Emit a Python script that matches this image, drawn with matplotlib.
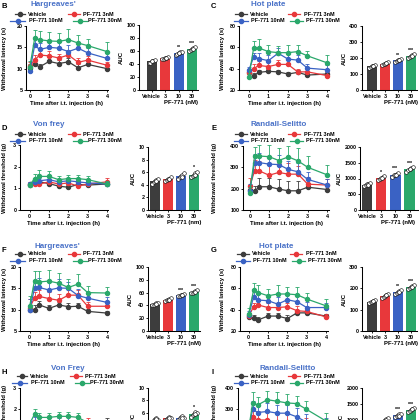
import matplotlib
matplotlib.use('Agg')
import matplotlib.pyplot as plt
from matplotlib.lines import Line2D
import numpy as np

plt.rcParams['font.family'] = ['Liberation Sans', 'DejaVu Sans']
plt.rcParams['font.weight'] = 'bold'
plt.rcParams['axes.labelweight'] = 'bold'

# ---------------- data ----------------
times = [0, 0.25, 0.5, 1, 1.5, 2, 2.5, 3, 4]
groups = ['Vehicle', 'PF-771 3nM', 'PF-771 10nM', 'PF-771 30nM']
bar_labels = ['Vehicle', '3', '10', '30']
colors = ['#3d3d3d', '#e8383b', '#3a62c4', '#2aa86b']
title_color = '#4a72c8'

# B  Hargreaves'
B_means = [[10.2, 11.1, 10.4, 11.7, 11.2, 11.6, 10.2, 11.0, 10.0],
           [10.6, 12.0, 13.2, 13.0, 12.5, 13.2, 11.5, 12.0, 10.8],
           [9.5, 15.5, 14.5, 15.0, 14.8, 14.0, 14.8, 13.7, 12.4],
           [10.5, 17.1, 16.8, 16.5, 16.4, 16.8, 16.0, 15.4, 14.0]]
B_errs = [[0.8, 1.0, 0.8, 1.0, 0.8, 0.8, 0.8, 0.7, 0.6],
          [1.0, 1.2, 1.2, 1.2, 1.0, 1.2, 1.0, 1.0, 0.8],
          [0.8, 1.5, 1.5, 1.5, 1.5, 1.5, 1.5, 1.2, 1.5],
          [1.2, 2.0, 2.0, 2.2, 2.0, 2.4, 2.0, 1.5, 2.2]]
B_auc = [44, 49, 57, 63]
B_pts = [[41, 42, 44, 45, 46, 44], [47, 48, 49, 50, 51, 49],
         [54, 56, 57, 58, 59, 57], [60, 62, 63, 64, 66, 63]]
B_stars = ['', '', '**', '***']

# C  Hot plate
C_means = [[36.5, 33.0, 36.5, 37.5, 37.0, 35.0, 36.5, 34.0, 35.0],
           [36.0, 40.0, 43.0, 42.0, 44.0, 44.0, 37.0, 37.0, 33.5],
           [38.5, 51.0, 49.5, 47.5, 54.5, 49.0, 48.0, 40.5, 39.0],
           [32.0, 59.5, 59.5, 56.0, 55.0, 55.0, 56.0, 52.0, 45.5]]
C_errs = [[2, 3, 2, 2, 2, 2, 2, 2, 2],
          [2, 4, 4, 5, 4, 5, 3, 4, 3],
          [3, 4, 5, 5, 5, 5, 5, 4, 4],
          [3, 6, 8, 6, 6, 7, 6, 5, 7]]
C_auc = [148, 165, 187, 212]
C_pts = [[140, 145, 148, 152, 155, 148], [155, 160, 165, 168, 172, 170],
         [178, 183, 187, 190, 195, 189], [200, 208, 212, 216, 222, 214]]
C_stars = ['', '', '**', '***']

# D  Von frey
D_means = [[1.15, 1.25, 1.30, 1.22, 1.10, 1.05, 1.18, 1.15, 1.20],
           [1.20, 1.20, 1.20, 1.30, 1.20, 1.25, 1.10, 1.20, 1.30],
           [1.20, 1.30, 1.35, 1.40, 1.30, 1.35, 1.30, 1.25, 1.20],
           [1.15, 1.45, 1.55, 1.55, 1.40, 1.45, 1.45, 1.40, 1.20]]
D_errs = [[0.1, 0.1, 0.1, 0.1, 0.1, 0.1, 0.1, 0.1, 0.1],
          [0.1, 0.1, 0.1, 0.1, 0.1, 0.1, 0.1, 0.1, 0.2],
          [0.1, 0.15, 0.15, 0.15, 0.15, 0.15, 0.15, 0.15, 0.1],
          [0.1, 0.2, 0.3, 0.25, 0.15, 0.15, 0.15, 0.15, 0.15]]
D_auc = [4.6, 4.9, 5.4, 5.6]
D_pts = [[4.2, 4.4, 4.6, 4.8, 5.0, 4.6], [4.6, 4.8, 4.9, 5.0, 5.2, 4.9],
         [5.0, 5.3, 5.4, 5.6, 5.9, 5.2], [5.2, 5.4, 5.6, 5.8, 6.1, 5.6]]
D_stars = ['', '', '', '*']

# E  Randall-Selitto
E_means = [[193, 189, 209, 209, 198, 190, 190, 207, 196],
           [212, 283, 283, 263, 276, 268, 268, 221, 217],
           [190, 322, 322, 315, 313, 290, 279, 243, 217],
           [180, 353, 353, 350, 332, 349, 330, 300, 265]]
E_errs = [[20, 25, 40, 40, 45, 45, 45, 20, 15],
          [40, 50, 45, 50, 45, 50, 40, 35, 30],
          [30, 40, 45, 40, 45, 40, 40, 35, 30],
          [30, 40, 50, 55, 60, 50, 60, 55, 45]]
E_auc = [800, 1020, 1120, 1290]
E_pts = [[760, 790, 810, 830, 850, 780], [960, 1000, 1020, 1050, 1080, 1010],
         [1060, 1100, 1120, 1150, 1190, 1100], [1220, 1260, 1290, 1320, 1350, 1300]]
E_stars = ['', '*', '***', '***']

# F  Hargreaves'
F_means = [[9.9, 10.0, 11.1, 10.3, 11.1, 10.7, 10.8, 9.6, 9.2],
           [10.5, 12.7, 13.1, 12.6, 12.2, 13.4, 13.4, 10.8, 10.8],
           [9.9, 15.0, 15.2, 14.6, 15.1, 15.0, 13.3, 12.7, 11.7],
           [10.8, 16.8, 16.5, 16.7, 16.2, 15.2, 16.0, 14.0, 13.9]]
F_errs = [[1.0, 1.0, 1.0, 0.8, 0.8, 0.8, 0.8, 0.6, 0.6],
          [2.0, 1.5, 1.5, 1.5, 1.5, 1.5, 1.2, 1.0, 1.0],
          [2.5, 2.0, 2.2, 2.0, 2.0, 1.5, 1.5, 1.2, 1.2],
          [2.5, 2.2, 2.5, 2.5, 2.5, 2.0, 2.3, 1.5, 1.3]]
F_auc = [42, 49, 56, 61]
F_pts = [[40, 41, 42, 43, 44, 42], [47, 48, 49, 50, 51, 49],
         [54, 55, 56, 57, 58, 56], [59, 60, 61, 62, 64, 61]]
F_stars = ['', '', '***', '***']

# G  Hot plate
G_means = [[33.0, 32.0, 30.5, 34.0, 34.0, 31.7, 37.0, 37.0, 34.0],
           [34.0, 42.7, 44.3, 42.0, 42.0, 42.7, 39.0, 38.3, 33.2],
           [35.0, 51.5, 49.0, 48.4, 45.2, 49.3, 47.4, 42.0, 42.0],
           [36.4, 58.0, 56.0, 53.0, 54.7, 54.7, 54.0, 50.0, 43.6]]
G_errs = [[2, 3, 3, 3, 3, 3, 3, 3, 2],
          [3, 4, 4, 4, 4, 4, 4, 3, 3],
          [4, 6, 6, 5, 7, 6, 5, 5, 4],
          [5, 7, 7, 6, 8, 7, 7, 6, 6]]
G_auc = [138, 165, 183, 205]
G_pts = [[130, 135, 138, 141, 145, 139], [155, 160, 165, 168, 172, 170],
         [175, 180, 183, 186, 190, 184], [195, 200, 205, 210, 215, 205]]
G_stars = ['', '', '**', '***']

# H  Von Frey
H_means = [[1.30, 1.30, 1.35, 1.30, 1.30, 1.30, 1.30, 1.30, 1.35],
           [1.30, 1.35, 1.35, 1.30, 1.30, 1.35, 1.35, 1.35, 1.30],
           [1.30, 1.40, 1.40, 1.35, 1.35, 1.40, 1.40, 1.30, 1.30],
           [1.30, 1.75, 1.60, 1.60, 1.65, 1.65, 1.60, 1.35, 1.30]]
H_errs = [[0.15, 0.15, 0.15, 0.15, 0.15, 0.15, 0.15, 0.15, 0.22],
          [0.15, 0.15, 0.15, 0.15, 0.15, 0.15, 0.15, 0.22, 0.15],
          [0.15, 0.2, 0.2, 0.2, 0.2, 0.2, 0.2, 0.15, 0.15],
          [0.15, 0.25, 0.2, 0.2, 0.2, 0.2, 0.2, 0.15, 0.15]]
H_auc = [4.9, 5.1, 5.2, 5.8]
H_pts = [[4.5, 4.8, 5.0, 5.2, 4.9, 5.0], [4.8, 5.0, 5.2, 5.4, 5.1, 5.1],
         [4.9, 5.1, 5.3, 5.5, 5.2, 5.2], [5.4, 5.6, 5.8, 6.2, 6.0, 5.8]]
H_stars = ['', '', '', '*']

# I  Randall-Selitto
I_means = [[190, 200, 195, 200, 195, 190, 195, 200, 195],
           [200, 262, 250, 250, 240, 240, 230, 220, 210],
           [190, 300, 285, 290, 282, 282, 265, 240, 220],
           [180, 330, 320, 345, 338, 330, 327, 300, 245]]
I_errs = [[25, 25, 25, 25, 25, 25, 25, 25, 25],
          [40, 40, 40, 40, 40, 40, 40, 40, 40],
          [40, 40, 40, 40, 40, 40, 40, 40, 40],
          [30, 50, 40, 40, 45, 40, 35, 40, 40]]
I_auc = [830, 1000, 1150, 1320]
I_pts = [[780, 800, 830, 850, 860, 820], [950, 980, 1000, 1030, 1050, 990],
         [1100, 1130, 1150, 1180, 1200, 1140], [1250, 1290, 1320, 1350, 1380, 1330]]
I_stars = ['', '', '***', '***']

LAT = 'Withdrawal latency (s)'
THR = 'Withdrawal threshold (g)'

# ---------------- figure ----------------
W = H = 420
fig = plt.figure(figsize=(4.2, 4.2), dpi=100)

TICK_FS = 3.9
LAB_FS = 4.3


def rect(l, t, r, b):
    return [l / W, 1 - b / H, (r - l) / W, (b - t) / H]


def fx(x):
    return x / W


def fy(y):
    return 1 - y / H


def style(ax):
    for s in ['top', 'right']:
        ax.spines[s].set_visible(False)
    for s in ['left', 'bottom']:
        ax.spines[s].set_linewidth(0.75)
    ax.tick_params(length=1.6, width=0.6, pad=1.0, labelsize=TICK_FS)


def line_panel(box, xlim, ylim, yticks, means, errs, ylabel, ylab_px, show_x=True):
    l, t, r, b = box
    ax = fig.add_axes(rect(l, t, r, b))
    for i in range(4):
        ax.errorbar(times, means[i], yerr=[np.zeros(len(times)), errs[i]],
                    color=colors[i], marker='o', ms=2.9, lw=0.9,
                    elinewidth=0.6, capsize=1.2, capthick=0.6,
                    clip_on=False, zorder=3 + i)
    ax.set_xlim(*xlim)
    ax.set_ylim(*ylim)
    ax.set_yticks(yticks)
    ax.set_xticks([0, 1, 2, 3, 4])
    style(ax)
    if show_x:
        ax.set_xlabel('Time after i.t. injection (h)', fontsize=LAB_FS, labelpad=1.5)
    else:
        ax.set_xticklabels([])
    ax.set_ylabel(ylabel, fontsize=LAB_FS)
    ax.yaxis.set_label_coords((ylab_px - l) / (r - l), 0.5)
    return ax


JIT = [-0.22, -0.1, 0.0, 0.1, 0.22, 0.05]


def bar_panel(box, xlim, ylim, yticks, auc, pts, stars, xlabel, show_x=True):
    l, t, r, b = box
    ax = fig.add_axes(rect(l, t, r, b))
    x = np.arange(4)
    ax.bar(x, auc, width=0.74, color=colors, edgecolor='none', zorder=2)
    for i in range(4):
        ax.scatter(x[i] + np.array(JIT), pts[i], s=7, facecolor='white',
                   edgecolor='black', linewidth=0.4, zorder=3, clip_on=False)
        if stars[i]:
            ax.text(x[i], max(pts[i]) + 0.02 * (ylim[1] - ylim[0]), stars[i],
                    ha='center', va='bottom', fontsize=3.8)
    ax.set_xlim(*xlim)
    ax.set_ylim(*ylim)
    ax.set_yticks(yticks)
    ax.set_xticks(x)
    style(ax)
    if show_x:
        ax.set_xticklabels(bar_labels)
        ax.text(2.2, -0.16, xlabel, transform=ax.get_xaxis_transform(),
                ha='center', va='top', fontsize=LAB_FS)
    else:
        ax.set_xticklabels([])
    ax.set_ylabel('AUC', fontsize=LAB_FS, labelpad=2)
    return ax


def legend(x0, y0, side):
    if side == 'L':
        spec = [(x0 + 5, x0 + 15, x0 + 18, y0), (x0 + 58, x0 + 70, x0 + 73, y0),
                (x0, x0 + 15, x0 + 19, y0 + 7), (x0 + 63, x0 + 77, x0 + 78, y0 + 7)]
    else:
        spec = [(x0, x0 + 12, x0 + 15, y0), (x0 + 53, x0 + 65, x0 + 69, y0),
                (x0 - 1, x0 + 13, x0 + 16, y0 + 7), (x0 + 55, x0 + 68, x0 + 71, y0 + 7)]
    for k, (a, c, tx, yy) in enumerate(spec):
        fig.add_artist(Line2D([fx(a), fx(c)], [fy(yy), fy(yy)], color=colors[k],
                              lw=0.9, transform=fig.transFigure))
        fig.add_artist(Line2D([fx((a + c) / 2)], [fy(yy)], color=colors[k],
                              marker='o', ms=3.0, lw=0, transform=fig.transFigure))
        fig.text(fx(tx), fy(yy), groups[k], fontsize=4.0, ha='left', va='center')


def header(letter, lx, ly, title, tx, ty):
    fig.text(fx(lx), fy(ly), letter, fontsize=5.5, ha='left', va='center')
    fig.text(fx(tx), fy(ty), title, fontsize=5.8, ha='center', va='center',
             color=title_color)


# Row 1
header('B', 1, 6, "Hargreaves'", 53, 5)
legend(10, 14, 'L')
line_panel((26, 26, 108, 90), (-0.2, 4.05), (5, 20), [5, 10, 15, 20], B_means, B_errs, LAT, 7)
bar_panel((139, 25, 198, 90), (-0.95, 3.45), (0, 100), [0, 20, 40, 60, 80, 100], B_auc, B_pts, B_stars, 'PF-771 (nM)')

header('C', 211, 6, 'Hot plate', 268, 5)
legend(235, 14, 'R')
line_panel((239, 26, 329, 90), (-0.5, 4.1), (20, 80), [20, 40, 60, 80], C_means, C_errs, LAT, 225)
bar_panel((362, 26, 417, 90), (-0.77, 3.46), (0, 400), [0, 100, 200, 300, 400], C_auc, C_pts, C_stars, 'PF-771 (nM)')

# Row 2
header('D', 1, 129, 'Von frey', 49, 124)
legend(10, 134, 'L')
line_panel((20, 145, 108, 210), (-0.5, 4.05), (0, 3), [0, 1, 2, 3], D_means, D_errs, THR, 7)
bar_panel((148, 147, 200, 210), (-0.55, 3.45), (0, 10), [0, 2, 4, 6, 8, 10], D_auc, D_pts, D_stars, 'PF-771 (nm)')

header('E', 211, 128, 'Randall-Selitto', 279, 124)
legend(235, 134, 'R')
line_panel((243, 146, 329, 210), (-0.35, 4.1), (100, 400), [100, 200, 300, 400], E_means, E_errs, THR, 217)
bar_panel((360, 147, 418, 210), (-0.5, 3.6), (0, 2000), [0, 500, 1000, 1500, 2000], E_auc, E_pts, E_stars, 'PF-771 (nM)')

# Row 3
header('F', 1, 250, "Hargreaves'", 57, 246)
legend(10, 254, 'L')
line_panel((20, 267, 108, 331), (-0.5, 4.05), (5, 20), [5, 10, 15, 20], F_means, F_errs, LAT, 7)
bar_panel((148, 267, 200, 331), (-0.55, 3.45), (0, 100), [0, 20, 40, 60, 80, 100], F_auc, F_pts, F_stars, 'PF-771 (nM)')

header('G', 211, 250, 'Hot plate', 276, 246)
legend(237, 254, 'R')
line_panel((240, 267, 328, 331), (-0.45, 4.1), (20, 80), [20, 40, 60, 80], G_means, G_errs, LAT, 225)
bar_panel((362, 267, 417, 331), (-0.77, 3.46), (0, 300), [0, 100, 200, 300], G_auc, G_pts, G_stars, 'PF-771 (nM)')

# Row 4 (cut off at the bottom of the canvas, as in the reference)
header('H', 1, 372, 'Von Frey', 68, 368)
legend(12, 376, 'L')
line_panel((20, 388, 108, 451), (-0.5, 4.05), (0, 3), [0, 1, 2, 3], H_means, H_errs, THR, 7, show_x=False)
bar_panel((148, 388, 200, 450), (-0.55, 3.45), (0, 10), [0, 2, 4, 6, 8, 10], H_auc, H_pts, H_stars, 'PF-771 (nM)', show_x=False)

header('I', 211, 372, 'Randall-Selitto', 288, 368)
legend(235, 376, 'R')
line_panel((238, 388, 328, 452), (-0.5, 4.1), (100, 400), [100, 200, 300, 400], I_means, I_errs, THR, 217, show_x=False)
bar_panel((362, 388, 417, 452), (-0.77, 3.46), (0, 2000), [0, 500, 1000, 1500, 2000], I_auc, I_pts, I_stars, 'PF-771 (nM)', show_x=False)

fig.savefig('out.png', dpi=100)
